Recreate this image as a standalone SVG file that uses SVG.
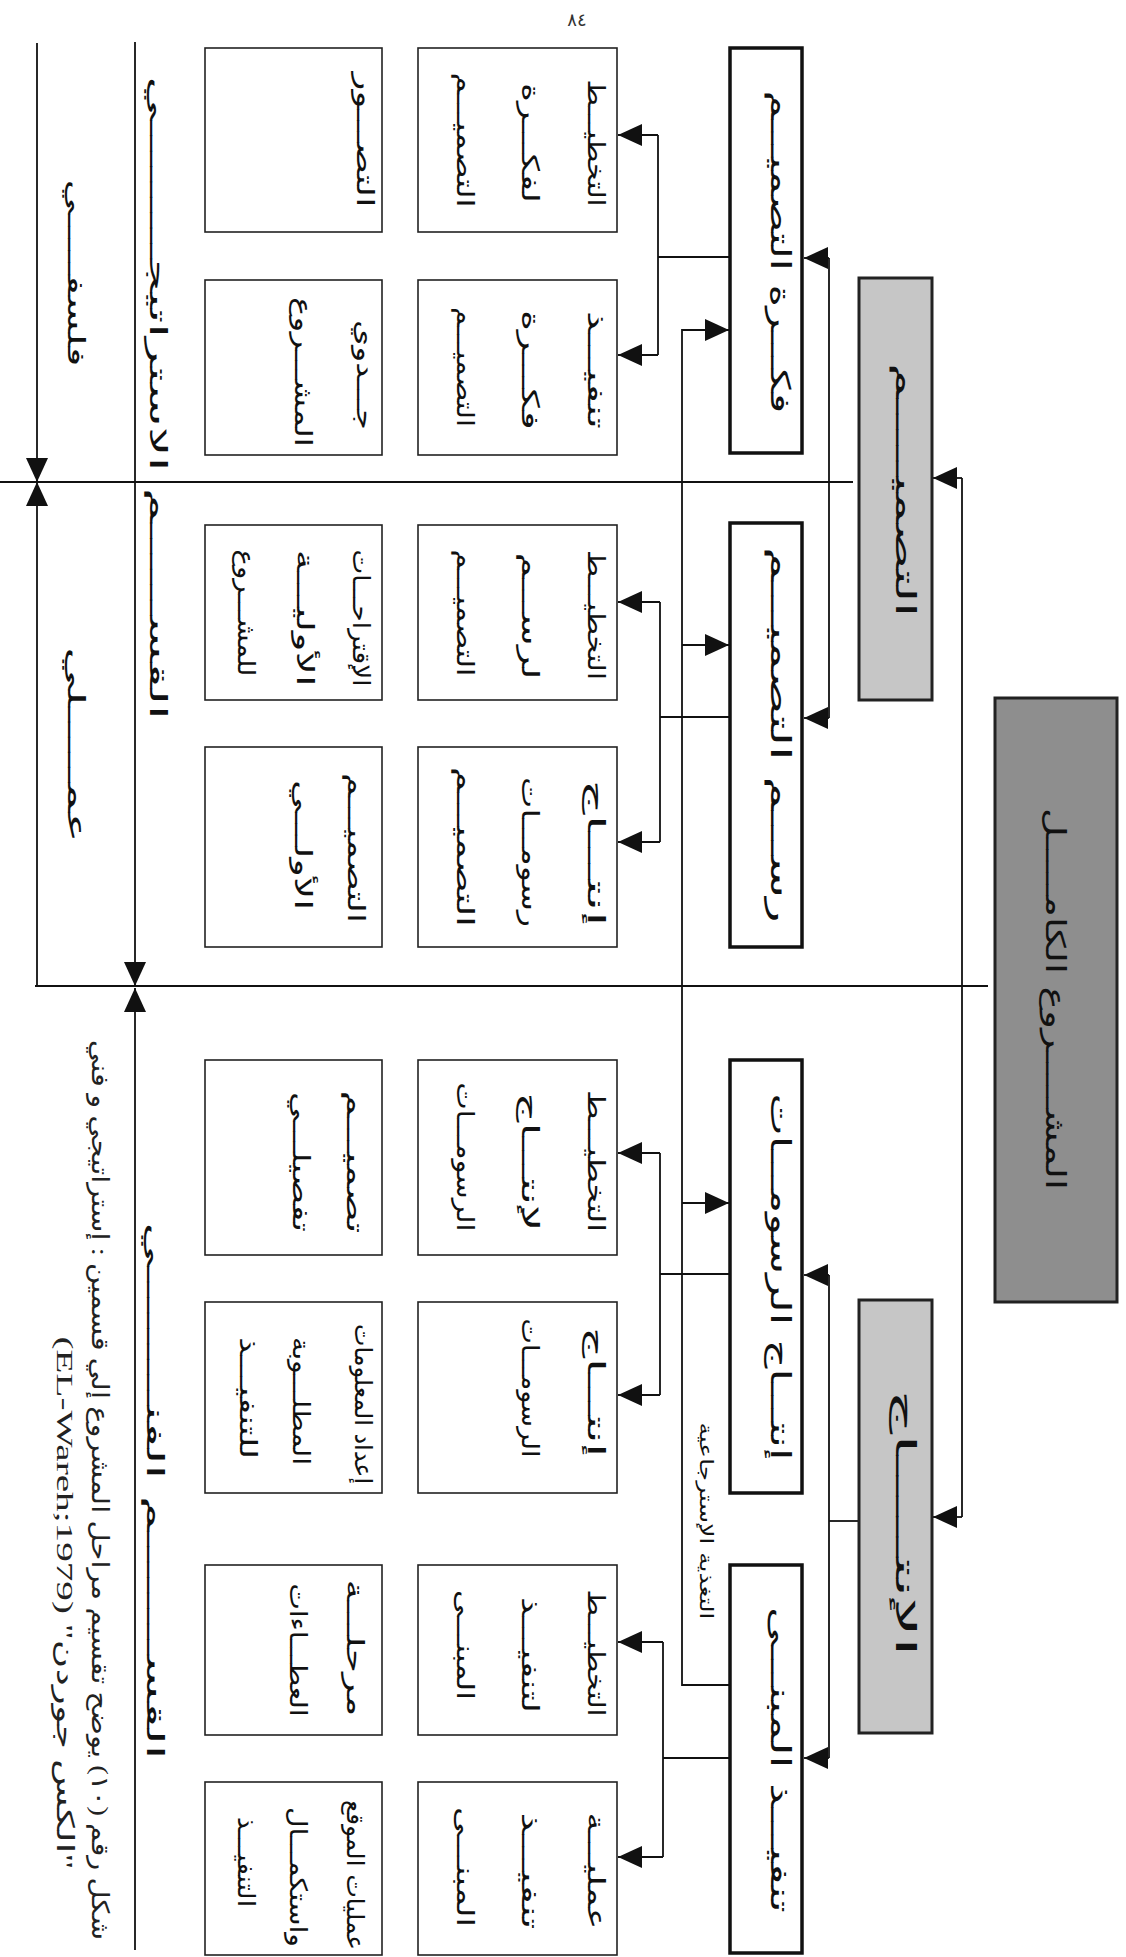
<svg xmlns="http://www.w3.org/2000/svg" width="1126" height="1957" viewBox="0 0 1126 1957">
<style>
.bg{fill:#fff}
.box{fill:#fff;stroke:#222;stroke-width:1.6}
.phase{fill:#fff;stroke:#111;stroke-width:3.5}
.gray{fill:#c6c6c6;stroke:#222;stroke-width:3}
.dark{fill:#8e8e8e;stroke:#222;stroke-width:3}
.t{font-family:"DejaVu Sans",sans-serif;font-size:24px;fill:#111;direction:rtl;text-anchor:middle}
.big{font-size:27px}
.sm{font-size:18px}
.cap{font-family:"Liberation Serif","DejaVu Sans",serif;font-size:24px;fill:#222;direction:rtl;text-anchor:middle}
.ln{stroke:#111;stroke-width:1.8;fill:none}
</style>
<defs>
<marker id="ah" markerUnits="userSpaceOnUse" markerWidth="25" markerHeight="22" refX="24" refY="11" orient="auto"><path d="M0,0 L24,11 L0,22 z" fill="#111"/></marker>
</defs>
<rect class="bg" x="0" y="0" width="1126" height="1957"/>
<text x="577" y="26" style="font-family:'DejaVu Sans',sans-serif;font-size:18px;fill:#333;text-anchor:middle">٨٤</text>

<g id="connectors">
<path class="ln" d="M0,482 H853"/>
<path class="ln" d="M35,986 H988"/>
<path class="ln" d="M37,43 V482" marker-end="url(#ah)"/>
<path class="ln" d="M37,986 V482" marker-end="url(#ah)"/>
<path class="ln" d="M135,42 V986" marker-end="url(#ah)"/>
<path class="ln" d="M135,1950 V988" marker-end="url(#ah)"/>
<path class="ln" d="M962,478 V1517"/>
<path class="ln" d="M962,478 H933" marker-end="url(#ah)"/>
<path class="ln" d="M962,1517 H933" marker-end="url(#ah)"/>
<path class="ln" d="M829,258 V718"/>
<path class="ln" d="M829,258 H804" marker-end="url(#ah)"/>
<path class="ln" d="M829,718 H804" marker-end="url(#ah)"/>
<path class="ln" d="M859,1521 H829"/>
<path class="ln" d="M829,1275 V1758"/>
<path class="ln" d="M829,1275 H804" marker-end="url(#ah)"/>
<path class="ln" d="M829,1758 H804" marker-end="url(#ah)"/>
<path class="ln" d="M730,257 H658"/>
<path class="ln" d="M658,135 V355"/>
<path class="ln" d="M658,135 H618" marker-end="url(#ah)"/>
<path class="ln" d="M658,355 H618" marker-end="url(#ah)"/>
<path class="ln" d="M730,717 H660"/>
<path class="ln" d="M660,602 V842"/>
<path class="ln" d="M660,602 H618" marker-end="url(#ah)"/>
<path class="ln" d="M660,842 H618" marker-end="url(#ah)"/>
<path class="ln" d="M730,1274 H660"/>
<path class="ln" d="M660,1153 V1395"/>
<path class="ln" d="M660,1153 H618" marker-end="url(#ah)"/>
<path class="ln" d="M660,1395 H618" marker-end="url(#ah)"/>
<path class="ln" d="M730,1758 H663"/>
<path class="ln" d="M663,1642 V1857"/>
<path class="ln" d="M663,1642 H618" marker-end="url(#ah)"/>
<path class="ln" d="M663,1857 H618" marker-end="url(#ah)"/>
<path class="ln" d="M730,1685 H682 V330 H729" marker-end="url(#ah)"/>
<path class="ln" d="M682,645 H729" marker-end="url(#ah)"/>
<path class="ln" d="M682,1203 H729" marker-end="url(#ah)"/>
</g>

<g id="labels">
<text class="t" x="68" y="273" transform="rotate(90 68 273)" textLength="187" lengthAdjust="spacingAndGlyphs">فلسفـــــي</text>
<text class="t" x="68" y="745" transform="rotate(90 68 745)" textLength="196" lengthAdjust="spacingAndGlyphs">عمـــــلي</text>
<text class="t" x="150" y="398" transform="rotate(90 150 398)" textLength="643" lengthAdjust="spacingAndGlyphs">القســــــم الاستراتيجـــــــــي</text>
<text class="t" x="147" y="1491" transform="rotate(90 147 1491)" textLength="537" lengthAdjust="spacingAndGlyphs">القســــــــم الفنـــــــــي</text>
<text class="t sm" x="700" y="1521" transform="rotate(90 700 1521)" textLength="197" lengthAdjust="spacingAndGlyphs">التغذية الإسترجاعية</text>
<text class="cap" x="92" y="1490" transform="rotate(90 92 1490)" textLength="900" lengthAdjust="spacingAndGlyphs">شكل رقم (١٠) يوضح تقسيم مراحل المشروع إلي قسمين : إستراتيجي و فني</text>
<text class="cap" x="57" y="1603" transform="rotate(90 57 1603)" textLength="533" lengthAdjust="spacingAndGlyphs">"الكس جوردن" (EL-Wareh;1979)</text>
</g>

<g id="project">
<rect class="dark" x="995" y="698" width="122" height="604"/>
<text class="t big" x="1046" y="999" transform="rotate(90 1046 999)" textLength="382" lengthAdjust="spacingAndGlyphs">المشـــــروع الكامـــــل</text>
</g>
<g id="design">
<rect class="gray" x="859" y="278" width="73" height="422"/>
<text class="t big" x="896" y="490" transform="rotate(90 896 490)" textLength="254" lengthAdjust="spacingAndGlyphs">التصميـــــم</text>
</g>
<g id="production">
<rect class="gray" x="859" y="1300" width="73" height="433"/>
<text class="t big" x="896" y="1523" transform="rotate(90 896 1523)" textLength="267" lengthAdjust="spacingAndGlyphs">الإنتـــــاج</text>
</g>

<g id="phase1">
<rect class="phase" x="730" y="48" width="72" height="405"/>
<text class="t big" x="771" y="252" transform="rotate(90 771 252)" textLength="323" lengthAdjust="spacingAndGlyphs">فكـــرة التصميـــم</text>
</g>
<g id="phase2">
<rect class="phase" x="730" y="523" width="72" height="424"/>
<text class="t big" x="771" y="735" transform="rotate(90 771 735)" textLength="376" lengthAdjust="spacingAndGlyphs">رســـم التصميـــم</text>
</g>
<g id="phase3">
<rect class="phase" x="730" y="1060" width="72" height="433"/>
<text class="t big" x="771" y="1277" transform="rotate(90 771 1277)" textLength="367" lengthAdjust="spacingAndGlyphs">إنتـــاج الرسومـــات</text>
</g>
<g id="phase4">
<rect class="phase" x="730" y="1565" width="72" height="388"/>
<text class="t big" x="771" y="1760" transform="rotate(90 771 1760)" textLength="306" lengthAdjust="spacingAndGlyphs">تنفيـــذ المبنـــى</text>
</g>

<g id="b2-1">
<rect class="box" x="418" y="48" width="199" height="184"/>
<text class="t" x="588" y="143" transform="rotate(90 588 143)" textLength="127" lengthAdjust="spacingAndGlyphs">التخطيـــط</text>
<text class="t" x="522" y="143" transform="rotate(90 522 143)" textLength="120" lengthAdjust="spacingAndGlyphs">لفكـــرة</text>
<text class="t" x="457" y="140" transform="rotate(90 457 140)" textLength="135" lengthAdjust="spacingAndGlyphs">التصميـــم</text>
</g>
<g id="b2-2">
<rect class="box" x="418" y="280" width="199" height="175"/>
<text class="t" x="588" y="370" transform="rotate(90 588 370)" textLength="118" lengthAdjust="spacingAndGlyphs">تنفيـــذ</text>
<text class="t" x="522" y="370" transform="rotate(90 522 370)" textLength="120" lengthAdjust="spacingAndGlyphs">فكـــرة</text>
<text class="t" x="457" y="367" transform="rotate(90 457 367)" textLength="120" lengthAdjust="spacingAndGlyphs">التصميـــم</text>
</g>
<g id="b2-3">
<rect class="box" x="418" y="525" width="199" height="175"/>
<text class="t" x="588" y="615" transform="rotate(90 588 615)" textLength="130" lengthAdjust="spacingAndGlyphs">التخطيـــط</text>
<text class="t" x="522" y="616" transform="rotate(90 522 616)" textLength="127" lengthAdjust="spacingAndGlyphs">لرســـم</text>
<text class="t" x="457" y="613" transform="rotate(90 457 613)" textLength="127" lengthAdjust="spacingAndGlyphs">التصميـــم</text>
</g>
<g id="b2-4">
<rect class="box" x="418" y="747" width="199" height="200"/>
<text class="t" x="588" y="853" transform="rotate(90 588 853)" textLength="147" lengthAdjust="spacingAndGlyphs">إنتـــاج</text>
<text class="t" x="522" y="852" transform="rotate(90 522 852)" textLength="150" lengthAdjust="spacingAndGlyphs">رسومـــات</text>
<text class="t" x="457" y="847" transform="rotate(90 457 847)" textLength="160" lengthAdjust="spacingAndGlyphs">التصميـــم</text>
</g>
<g id="b2-5">
<rect class="box" x="418" y="1060" width="199" height="195"/>
<text class="t" x="588" y="1161" transform="rotate(90 588 1161)" textLength="142" lengthAdjust="spacingAndGlyphs">التخطيـــط</text>
<text class="t" x="522" y="1162" transform="rotate(90 522 1162)" textLength="139" lengthAdjust="spacingAndGlyphs">لإنتـــاج</text>
<text class="t" x="457" y="1157" transform="rotate(90 457 1157)" textLength="149" lengthAdjust="spacingAndGlyphs">الرسومـــات</text>
</g>
<g id="b2-6">
<rect class="box" x="418" y="1302" width="199" height="191"/>
<text class="t" x="588" y="1392" transform="rotate(90 588 1392)" textLength="130" lengthAdjust="spacingAndGlyphs">إنتـــاج</text>
<text class="t" x="522" y="1388" transform="rotate(90 522 1388)" textLength="139" lengthAdjust="spacingAndGlyphs">الرسومـــات</text>
</g>
<g id="b2-7">
<rect class="box" x="418" y="1565" width="199" height="170"/>
<text class="t" x="588" y="1653" transform="rotate(90 588 1653)" textLength="127" lengthAdjust="spacingAndGlyphs">التخطيـــط</text>
<text class="t" x="522" y="1655" transform="rotate(90 522 1655)" textLength="116" lengthAdjust="spacingAndGlyphs">لتنفيـــذ</text>
<text class="t" x="457" y="1645" transform="rotate(90 457 1645)" textLength="110" lengthAdjust="spacingAndGlyphs">المبنـــى</text>
</g>
<g id="b2-8">
<rect class="box" x="418" y="1782" width="199" height="173"/>
<text class="t" x="588" y="1871" transform="rotate(90 588 1871)" textLength="117" lengthAdjust="spacingAndGlyphs">عمليـــة</text>
<text class="t" x="522" y="1871" transform="rotate(90 522 1871)" textLength="117" lengthAdjust="spacingAndGlyphs">تنفيـــذ</text>
<text class="t" x="457" y="1867" transform="rotate(90 457 1867)" textLength="120" lengthAdjust="spacingAndGlyphs">المبنـــى</text>
</g>

<g id="b1-1">
<rect class="box" x="205" y="48" width="177" height="184"/>
<text class="t" x="357" y="140" transform="rotate(90 357 140)" textLength="135" lengthAdjust="spacingAndGlyphs">التصـــور</text>
</g>
<g id="b1-2">
<rect class="box" x="205" y="280" width="177" height="175"/>
<text class="t" x="357" y="375" transform="rotate(90 357 375)" textLength="110" lengthAdjust="spacingAndGlyphs">جـــدوي</text>
<text class="t" x="295" y="372" transform="rotate(90 295 372)" textLength="150" lengthAdjust="spacingAndGlyphs">المشـــروع</text>
</g>
<g id="b1-3">
<rect class="box" x="205" y="525" width="177" height="175"/>
<text class="t" x="353" y="618" transform="rotate(90 353 618)" textLength="137" lengthAdjust="spacingAndGlyphs">الإقتراحـــات</text>
<text class="t" x="297" y="618" transform="rotate(90 297 618)" textLength="137" lengthAdjust="spacingAndGlyphs">الأوليـــة</text>
<text class="t" x="238" y="613" transform="rotate(90 238 613)" textLength="127" lengthAdjust="spacingAndGlyphs">للمشـــروع</text>
</g>
<g id="b1-4">
<rect class="box" x="205" y="747" width="177" height="200"/>
<text class="t" x="348" y="848" transform="rotate(90 348 848)" textLength="150" lengthAdjust="spacingAndGlyphs">التصميـــم</text>
<text class="t" x="295" y="845" transform="rotate(90 295 845)" textLength="130" lengthAdjust="spacingAndGlyphs">الأولـــي</text>
</g>
<g id="b1-5">
<rect class="box" x="205" y="1060" width="177" height="195"/>
<text class="t" x="347" y="1162" transform="rotate(90 347 1162)" textLength="143" lengthAdjust="spacingAndGlyphs">تصميـــم</text>
<text class="t" x="293" y="1162" transform="rotate(90 293 1162)" textLength="140" lengthAdjust="spacingAndGlyphs">تفصيلـــي</text>
</g>
<g id="b1-6">
<rect class="box" x="205" y="1302" width="177" height="191"/>
<text class="t" x="355" y="1404" transform="rotate(90 355 1404)" textLength="160" lengthAdjust="spacingAndGlyphs">إعداد المعلومات</text>
<text class="t" x="293" y="1401" transform="rotate(90 293 1401)" textLength="128" lengthAdjust="spacingAndGlyphs">المطلـــوبة</text>
<text class="t" x="240" y="1398" transform="rotate(90 240 1398)" textLength="122" lengthAdjust="spacingAndGlyphs">للتنفيـــذ</text>
</g>
<g id="b1-7">
<rect class="box" x="205" y="1565" width="177" height="170"/>
<text class="t" x="347" y="1648" transform="rotate(90 347 1648)" textLength="137" lengthAdjust="spacingAndGlyphs">مرحلـــة</text>
<text class="t" x="290" y="1650" transform="rotate(90 290 1650)" textLength="133" lengthAdjust="spacingAndGlyphs">العطـــاءات</text>
</g>
<g id="b1-8">
<rect class="box" x="205" y="1782" width="177" height="173"/>
<text class="t" x="347" y="1875" transform="rotate(90 347 1875)" textLength="150" lengthAdjust="spacingAndGlyphs">عمليات الموقع</text>
<text class="t" x="290" y="1877" transform="rotate(90 290 1877)" textLength="140" lengthAdjust="spacingAndGlyphs">واستكمـــال</text>
<text class="t" x="238" y="1862" transform="rotate(90 238 1862)" textLength="90" lengthAdjust="spacingAndGlyphs">التنفيـــذ</text>
</g>
</svg>
